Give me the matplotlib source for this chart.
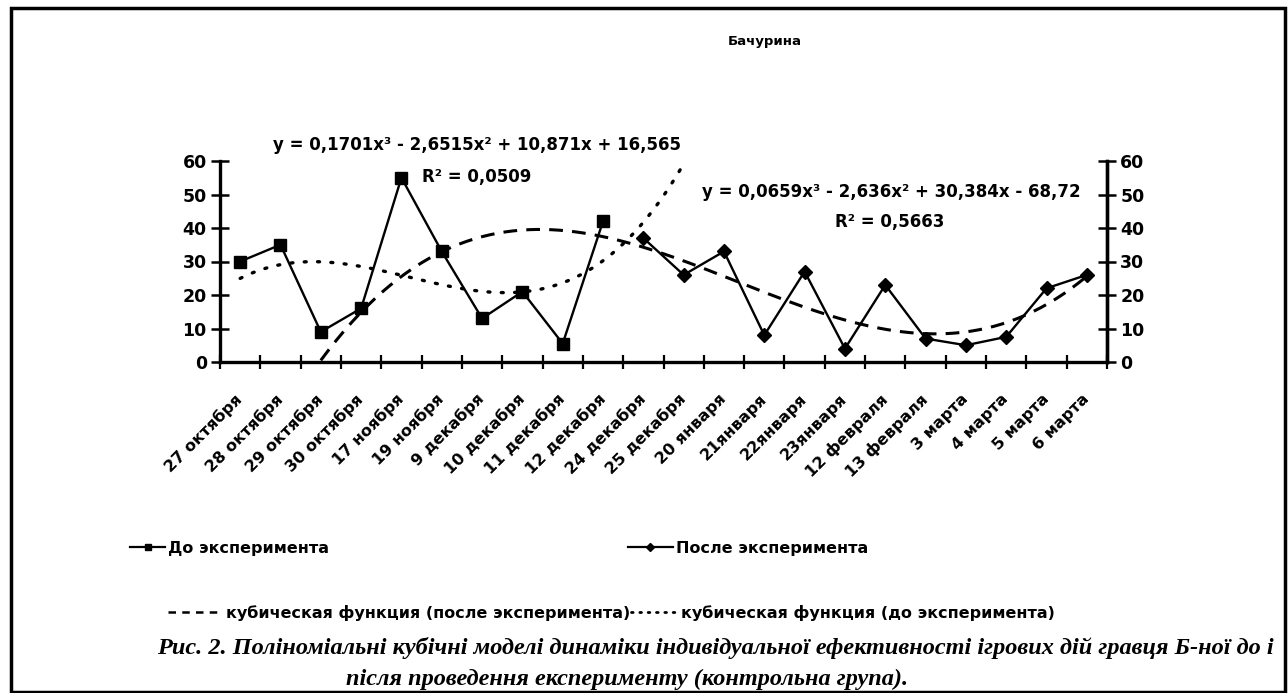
import numpy as np
import matplotlib.pyplot as plt
from matplotlib.lines import Line2D
from matplotlib.patches import Rectangle

# data
dates = ['27 октября', '28 октября', '29 октября', '30 октября', '17 ноября',
         '19 ноября', '9 декабря', '10 декабря', '11 декабря', '12 декабря',
         '24 декабря', '25 декабря', '20 января', '21января', '22января',
         '23января', '12 февраля', '13 февраля', '3 марта', '4 марта',
         '5 марта', '6 марта']
before = [30, 35, 9, 16, 55, 33, 13, 21, 5.5, 42]
after = [37, 26, 33, 8, 27, 4, 23, 7, 5, 7.5, 22, 26]

# cubic trend lines as printed on the chart (x = category number)
coef_before = [0.1701, -2.6515, 10.871, 16.565]
r2_before = 0.0509
forward_before = 2
coef_after = [0.0659, -2.636, 30.384, -68.72]
r2_after = 0.5663
backward_after = 8

W, H = 1288, 693


def fx(px):
    return px / W


def fy(py):
    return 1 - py / H


def num(v):
    return ('%g' % abs(v)).replace('.', ',')


def equation(c):
    sign = lambda v: '+' if v >= 0 else '-'
    return 'y = %sx³ %s %sx² %s %sx %s %s' % (num(c[0]), sign(c[1]), num(c[1]),
                                             sign(c[2]), num(c[2]), sign(c[3]), num(c[3]))


plt.rcParams['font.family'] = ['DejaVu Sans']
plt.rcParams['font.weight'] = 'bold'

fig = plt.figure(figsize=(W / 100, H / 100), dpi=100)
ax = fig.add_axes([fx(220), fy(362), fx(1107) - fx(220), fy(161) - fy(362)])

x_before = np.arange(1, len(before) + 1)
x_after = np.arange(len(before) + 1, len(before) + len(after) + 1)

# trend curves
t1 = np.linspace(x_before[0], x_before[-1] + forward_before, 300)
t2 = np.linspace(x_after[0] - backward_after, x_after[-1], 300)
ax.plot(t2, np.polyval(coef_after, t2), color='k', lw=2.2, linestyle=(0, (4.5, 3)))
ax.plot(t1, np.polyval(coef_before, t1), color='k', lw=2.4, linestyle=(0, (0.6, 3.4)),
        dash_capstyle='round')

# data series
ax.plot(x_before, before, color='k', lw=1.7, marker='s', ms=8.5, zorder=5)
ax.plot(x_after, after, color='k', lw=1.7, marker='D', ms=7, zorder=5)

ax.set_xlim(0.5, len(dates) + 0.5)
ax.set_ylim(0, 60)
ax.set_yticks(range(0, 61, 10))
ax.set_xticks(np.arange(0.5, len(dates) + 1, 1))
ax.set_xticklabels([])
ax.set_xticks(np.arange(1, len(dates) + 1), minor=True)
ax.set_xticklabels(dates, minor=True, rotation=45, ha='right', va='center',
                   rotation_mode='anchor', fontsize=11.5)
ax.tick_params(axis='x', which='major', direction='inout', length=10, width=1.6)
ax.tick_params(axis='x', which='minor', length=0, pad=25)
ax.tick_params(axis='y', direction='inout', length=13, width=1.8, labelsize=12.5, pad=3)

ax.spines['top'].set_visible(False)
for s in ['left', 'bottom', 'right']:
    ax.spines[s].set_linewidth(2.4)

ax2 = ax.twinx()
ax2.set_ylim(0, 60)
ax2.set_yticks(range(0, 61, 10))
ax2.tick_params(axis='y', direction='inout', length=13, width=1.8, labelsize=12.5, pad=3)
ax2.spines['top'].set_visible(False)
ax2.spines['right'].set_linewidth(2.4)

# title and equations
fig.text(fx(765), fy(42), 'Бачурина', ha='center', va='center', fontsize=9.5)
fig.text(fx(273), fy(145), equation(coef_before), ha='left', va='center', fontsize=12)
fig.text(fx(422), fy(177), 'R² = ' + num(r2_before), ha='left', va='center', fontsize=12)
fig.text(fx(702), fy(192), equation(coef_after), ha='left', va='center', fontsize=12)
fig.text(fx(835), fy(222), 'R² = ' + num(r2_after), ha='left', va='center', fontsize=12)

# legend, one entry at a time
entries = [
    (Line2D([], [], color='k', lw=1.6, marker='s', ms=5), 'До эксперимента', 130, 548, 2.2),
    (Line2D([], [], color='k', lw=1.6, marker='D', ms=4.5), 'После эксперимента', 628, 548, 2.8),
    (Line2D([], [], color='k', lw=1.8, linestyle=(0, (3, 2.5))), 'кубическая функция (после эксперимента)', 168, 613, 3.4),
    (Line2D([], [], color='k', lw=2, linestyle=(0, (0.6, 2.4)), dash_capstyle='round'),
     'кубическая функция (до эксперимента)', 631, 613, 2.9),
]
for handle, label, x, y, hl in entries:
    fig.legend([handle], [label], loc='center left', bbox_to_anchor=(fx(x), fy(y)),
               frameon=False, fontsize=11.5, handlelength=hl, handletextpad=0.2,
               borderpad=0, borderaxespad=0)

# caption
fig.text(fx(715), fy(648),
         'Рис. 2. Поліноміальні кубічні моделі динаміки індивідуальної ефективності ігрових дій гравця Б-ної до і',
         ha='center', va='center', fontsize=17.5, family='Liberation Serif', style='italic')
fig.text(fx(627), fy(679), 'після проведення експерименту (контрольна група).',
         ha='center', va='center', fontsize=17.5, family='Liberation Serif', style='italic')

# outer frame
fig.add_artist(Rectangle((fx(11), fy(692)), fx(1285) - fx(11), fy(8) - fy(692),
                         transform=fig.transFigure, fill=False, lw=2.5, color='k'))

fig.savefig('out.png', dpi=100)
